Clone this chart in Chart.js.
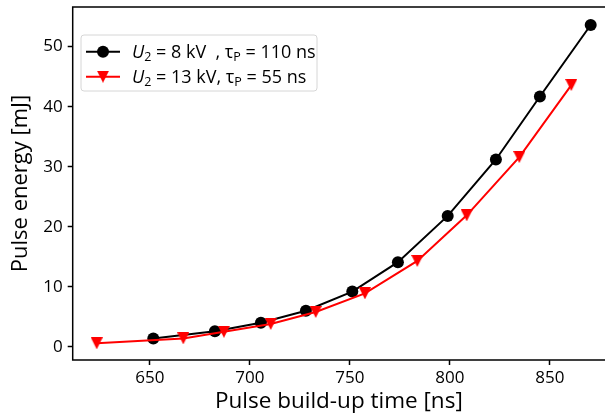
<!DOCTYPE html>
<html>
<head>
<meta charset="utf-8">
<script src="https://cdn.jsdelivr.net/npm/chart.js@4/dist/chart.umd.min.js"></script>
<style>
  html, body { margin: 0; padding: 0; background: #fff; overflow: hidden; }
</style>
</head>
<body>
<canvas id="chart" width="605" height="420"></canvas>
<script>
// Pulse build-up time [ns] and pulse energy [mJ]
const timeA = [651.7, 682.5, 705.5, 728.0, 751.2, 774.0, 798.9, 823.0, 845.0, 870.4];
const energyA = [1.4, 2.6, 4.0, 6.0, 9.2, 14.1, 21.8, 31.2, 41.7, 53.6];
const timeB = [623.4, 666.7, 687.0, 710.4, 732.9, 757.5, 783.7, 808.4, 834.7, 860.7];
const energyB = [0.57, 1.4, 2.5, 3.8, 5.8, 8.9, 14.3, 21.9, 31.6, 43.6];

const xTicks = [650, 700, 750, 800, 850];
const yTicks = [0, 10, 20, 30, 40, 50];

// legend labels as [text, style] parts (style: 'i' italic, 's' subscript)
const labelA = [['U', 'i'], ['2', 's'], [' = 8 kV  , τ', ''], ['P', 's'], [' = 110 ns', '']];
const labelB = [['U', 'i'], ['2', 's'], [' = 13 kV, τ', ''], ['P', 's'], [' = 55 ns', '']];

const FONT = '"Open Sans", "DejaVu Sans", sans-serif';

// matplotlib-like downward triangle marker
function makeTriangle(size, color) {
  const c = document.createElement('canvas');
  c.width = size;
  c.height = size;
  const g = c.getContext('2d');
  g.fillStyle = color;
  g.beginPath();
  g.moveTo(0, 0);
  g.lineTo(size, 0);
  g.lineTo(size / 2, size);
  g.closePath();
  g.fill();
  return c;
}
const triRed = makeTriangle(12, '#ff0000');

const toXY = (xs, ys) => xs.map((x, i) => ({ x: x, y: ys[i] }));

// left, top and bottom spines (the right one lies outside the picture)
const framePlugin = {
  id: 'frame',
  afterDatasetsDraw(chart) {
    const { ctx, chartArea: a } = chart;
    ctx.save();
    ctx.strokeStyle = '#000';
    ctx.lineWidth = 1.5;
    ctx.beginPath();
    ctx.moveTo(a.right, a.top);
    ctx.lineTo(a.left, a.top);
    ctx.lineTo(a.left, a.bottom);
    ctx.lineTo(a.right, a.bottom);
    ctx.stroke();
    ctx.restore();
  }
};

// legend box with italic / subscript text
const legendPlugin = {
  id: 'mplLegend',
  afterDraw(chart) {
    const ctx = chart.ctx;
    ctx.save();
    const bx = 81, by = 35, bw = 236, bh = 56, r = 3;
    ctx.beginPath();
    ctx.moveTo(bx + r, by);
    ctx.arcTo(bx + bw, by, bx + bw, by + bh, r);
    ctx.arcTo(bx + bw, by + bh, bx, by + bh, r);
    ctx.arcTo(bx, by + bh, bx, by, r);
    ctx.arcTo(bx, by, bx + bw, by, r);
    ctx.closePath();
    ctx.fillStyle = 'rgba(255,255,255,0.8)';
    ctx.fill();
    ctx.strokeStyle = '#d6d6d6';
    ctx.lineWidth = 1;
    ctx.stroke();

    const rows = [
      { label: labelA, color: '#000', marker: 'circle', cy: 51.7 },
      { label: labelB, color: '#ff0000', marker: 'tri', cy: 76.7 }
    ];
    rows.forEach(row => {
      ctx.strokeStyle = row.color;
      ctx.lineWidth = 2;
      ctx.beginPath();
      ctx.moveTo(86, row.cy);
      ctx.lineTo(120, row.cy);
      ctx.stroke();
      if (row.marker === 'circle') {
        ctx.fillStyle = row.color;
        ctx.beginPath();
        ctx.arc(103, row.cy, 6, 0, Math.PI * 2);
        ctx.fill();
      } else {
        ctx.drawImage(triRed, 103 - 6, row.cy - 6, 12, 12);
      }
      let x = 132;
      const base = row.cy + 6;
      ctx.fillStyle = '#000';
      ctx.textBaseline = 'alphabetic';
      row.label.forEach(([t, s]) => {
        let y = base;
        if (s === 'i') ctx.font = 'italic 18px ' + FONT;
        else if (s === 's') { ctx.font = '12.5px ' + FONT; y = base + 3; }
        else ctx.font = '18px ' + FONT;
        ctx.fillText(t, x, y);
        x += ctx.measureText(t).width;
      });
    });
    ctx.restore();
  }
};

new Chart(document.getElementById('chart'), {
  type: 'line',
  data: {
    datasets: [
      {
        label: 'U2 = 8 kV, τP = 110 ns',
        data: toXY(timeA, energyA),
        borderColor: '#000',
        backgroundColor: '#000',
        borderWidth: 2,
        pointStyle: 'circle',
        pointRadius: 6,
        pointBorderWidth: 0,
        order: 1
      },
      {
        label: 'U2 = 13 kV, τP = 55 ns',
        data: toXY(timeB, energyB),
        borderColor: '#ff0000',
        backgroundColor: '#ff0000',
        borderWidth: 2,
        pointStyle: triRed,
        pointRadius: 6,
        order: 0
      }
    ]
  },
  options: {
    responsive: false,
    animation: false,
    layout: { autoPadding: false, padding: { top: 7, right: 0, left: 0, bottom: 0 } },
    plugins: { legend: { display: false }, tooltip: { enabled: false } },
    scales: {
      x: {
        type: 'linear',
        min: 611.4,
        max: 877.55,
        afterBuildTicks: s => { s.ticks = xTicks.map(v => ({ value: v })); },
        afterFit: s => { s.height = 60; s.paddingLeft = 0; s.paddingRight = 0; },
        grid: { drawOnChartArea: false, tickLength: 5, tickWidth: 1.5, tickColor: '#000' },
        border: { display: false },
        ticks: { color: '#000', font: { family: FONT, size: 17 }, padding: 3, maxRotation: 0 },
        title: {
          display: true,
          text: 'Pulse build-up time [ns]',
          color: '#000',
          font: { family: FONT, size: 22.5 },
          padding: { top: 0, bottom: 5 }
        }
      },
      y: {
        type: 'linear',
        min: -2.2,
        max: 56.6,
        afterBuildTicks: s => { s.ticks = yTicks.map(v => ({ value: v })); },
        afterFit: s => { s.width = 72.7; s.paddingTop = 0; s.paddingBottom = 0; },
        grid: { drawOnChartArea: false, tickLength: 5, tickWidth: 1.5, tickColor: '#000' },
        border: { display: false },
        ticks: { color: '#000', font: { family: FONT, size: 17 }, padding: 5 },
        title: {
          display: true,
          text: 'Pulse energy [mJ]',
          color: '#000',
          font: { family: FONT, size: 22 },
          padding: { top: 8, bottom: 0 }
        }
      }
    }
  },
  plugins: [framePlugin, legendPlugin]
});
</script>
</body>
</html>
